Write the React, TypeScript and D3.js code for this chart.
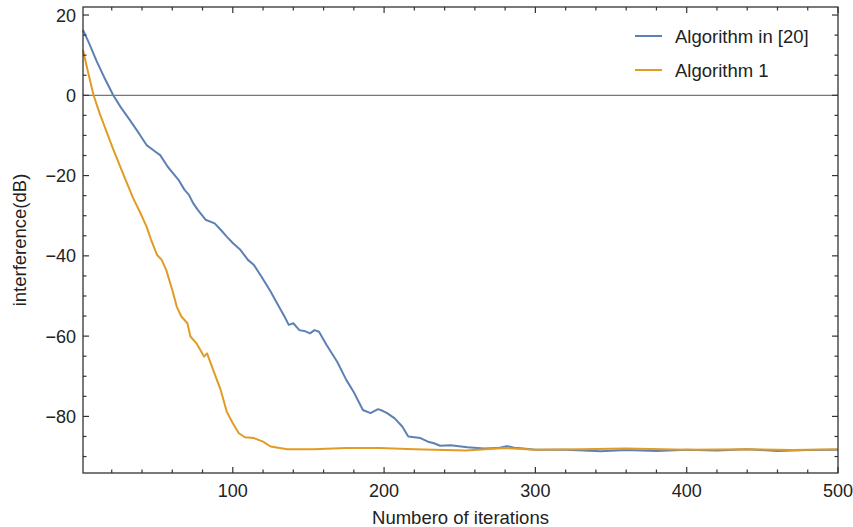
import React, { useEffect, useRef } from 'react';
import * as d3 from 'd3';

// values: [iteration, interference dB]
const seriesNames = ['Algorithm in [20]', 'Algorithm 1'];
const seriesColors = ['#5E81B5', '#E19C24'];

const blueData: [number, number][] = [
  [1, 16.3], [5, 13], [10, 8.5], [15, 4.5], [21, 0], [26, -3], [32, -6.2], [38, -9.5],
  [43, -12.4], [48, -13.8], [52, -14.9], [57, -17.8], [60, -19.2], [64, -21], [68, -23.5],
  [71, -24.8], [74, -27], [77, -28.6], [82, -31], [88, -31.9], [92, -33.5], [96, -35.2],
  [100, -36.8], [105, -38.5], [110, -41], [114, -42.3], [119, -45.2], [125, -48.9],
  [131, -53], [134, -55], [137, -57.2], [140, -56.8], [144, -58.5], [148, -58.8],
  [151, -59.3], [154, -58.5], [157, -58.9], [162, -62.2], [169, -66.4], [175, -70.9],
  [180, -74], [186, -78.4], [191, -79.2], [196, -78.2], [199, -78.6], [202, -79.2],
  [207, -80.5], [212, -82.5], [216, -85], [220, -85.2], [224, -85.4], [229, -86.3],
  [233, -86.7], [237, -87.3], [244, -87.2], [255, -87.7], [266, -88], [275, -87.9],
  [281, -87.4], [286, -87.8], [292, -88], [300, -88.3], [320, -88.3], [343, -88.7],
  [360, -88.4], [380, -88.6], [400, -88.3], [420, -88.5], [440, -88.2], [460, -88.6],
  [480, -88.4], [500, -88.3],
];

const orangeData: [number, number][] = [
  [1, 11.3], [4, 6.3], [8, 0], [12, -4.5], [17, -9.5], [21, -13.5], [28, -20],
  [34, -25.5], [39, -29.4], [43, -32.7], [46, -36], [50, -39.8], [53, -41], [56, -43.5],
  [60, -48.5], [63, -52.7], [66, -55.1], [70, -56.8], [72, -60.1], [76, -61.8],
  [81, -65.1], [83, -64.3], [87, -68.4], [92, -73.4], [96, -78.8], [100, -81.7],
  [104, -84.2], [108, -85.2], [114, -85.4], [120, -86.3], [125, -87.5], [136, -88.2],
  [153, -88.2], [175, -87.9], [197, -87.9], [220, -88.2], [254, -88.5], [280, -87.9],
  [300, -88.3], [330, -88.2], [360, -88], [400, -88.3], [440, -88.2], [470, -88.4],
  [500, -88.2],
];

const xMajor = [100, 200, 300, 400, 500];
const yMajor = [-80, -60, -40, -20, 0, 20];

const App = () => {
  const ref = useRef<SVGSVGElement>(null);

  useEffect(() => {
    const width = 853;
    const height = 527;
    const left = 83, right = 838, top = 7, bottom = 473;
    const font = '"Liberation Sans", Arial, sans-serif';

    const svg = d3.select(ref.current);
    svg.selectAll('*').remove();

    const x = d3.scaleLinear().domain([1, 500]).range([left, right]);
    const y = d3.scaleLinear().domain([-94.1, 22]).range([bottom, top]);

    const xMinor = d3.range(20, 501, 20).filter((v) => v % 100 !== 0);
    const yMinor = d3.range(-90, 21, 5).filter((v) => v % 20 !== 0);

    // zero line
    svg.append('line')
      .attr('x1', left).attr('x2', right)
      .attr('y1', y(0)).attr('y2', y(0))
      .attr('stroke', '#777').attr('stroke-width', 1.2);

    const line = d3.line<[number, number]>()
      .x((d) => x(d[0]))
      .y((d) => y(d[1]));

    [blueData, orangeData].forEach((data, i) => {
      svg.append('path')
        .datum(data)
        .attr('d', line)
        .attr('fill', 'none')
        .attr('stroke', seriesColors[i])
        .attr('stroke-width', 2)
        .attr('stroke-linejoin', 'round');
    });

    // frame
    svg.append('rect')
      .attr('x', left).attr('y', top)
      .attr('width', right - left).attr('height', bottom - top)
      .attr('fill', 'none').attr('stroke', '#333').attr('stroke-width', 1.3);

    const ticks = svg.append('g').attr('stroke', '#333').attr('stroke-width', 1.2);
    const addX = (vals: number[], len: number) => {
      vals.forEach((v) => {
        ticks.append('line').attr('x1', x(v)).attr('x2', x(v)).attr('y1', bottom).attr('y2', bottom - len);
        ticks.append('line').attr('x1', x(v)).attr('x2', x(v)).attr('y1', top).attr('y2', top + len);
      });
    };
    const addY = (vals: number[], len: number) => {
      vals.forEach((v) => {
        ticks.append('line').attr('y1', y(v)).attr('y2', y(v)).attr('x1', left).attr('x2', left + len);
        ticks.append('line').attr('y1', y(v)).attr('y2', y(v)).attr('x1', right).attr('x2', right - len);
      });
    };
    addX(xMajor, 6);
    addX(xMinor, 3.5);
    addY(yMajor, 6);
    addY(yMinor, 3.5);

    svg.append('g')
      .selectAll('text')
      .data(xMajor)
      .enter()
      .append('text')
      .attr('x', (d) => x(d))
      .attr('y', 497)
      .attr('text-anchor', 'middle')
      .attr('font-family', font)
      .attr('font-size', 18)
      .attr('fill', '#222')
      .text((d) => String(d));

    svg.append('g')
      .selectAll('text')
      .data(yMajor)
      .enter()
      .append('text')
      .attr('x', 76)
      .attr('y', (d) => y(d))
      .attr('dy', '0.36em')
      .attr('text-anchor', 'end')
      .attr('font-family', font)
      .attr('font-size', 18)
      .attr('fill', '#222')
      .text((d) => (d < 0 ? '\u2212' + Math.abs(d) : String(d)));

    svg.append('text')
      .attr('x', (left + right) / 2)
      .attr('y', 524)
      .attr('text-anchor', 'middle')
      .attr('font-family', font)
      .attr('font-size', 18.5)
      .attr('fill', '#222')
      .text('Numbero of iterations');

    svg.append('text')
      .attr('transform', `translate(26, ${(top + bottom) / 2}) rotate(-90)`)
      .attr('text-anchor', 'middle')
      .attr('font-family', font)
      .attr('font-size', 18.5)
      .attr('fill', '#222')
      .text('interference(dB)');

    // legend
    seriesNames.forEach((name, i) => {
      const ly = 36 + i * 34;
      svg.append('line')
        .attr('x1', 635).attr('x2', 662)
        .attr('y1', ly).attr('y2', ly)
        .attr('stroke', seriesColors[i]).attr('stroke-width', 2);
      svg.append('text')
        .attr('x', 675)
        .attr('y', ly)
        .attr('dy', '0.36em')
        .attr('font-family', font)
        .attr('font-size', 18.5)
        .attr('fill', '#222')
        .text(name);
    });

    svg.attr('width', width).attr('height', height);
  }, []);

  return (
    <svg
      ref={ref}
      width={853}
      height={527}
      style={{ position: 'absolute', left: 0, top: 0, background: '#fff' }}
    />
  );
};

export default App;
